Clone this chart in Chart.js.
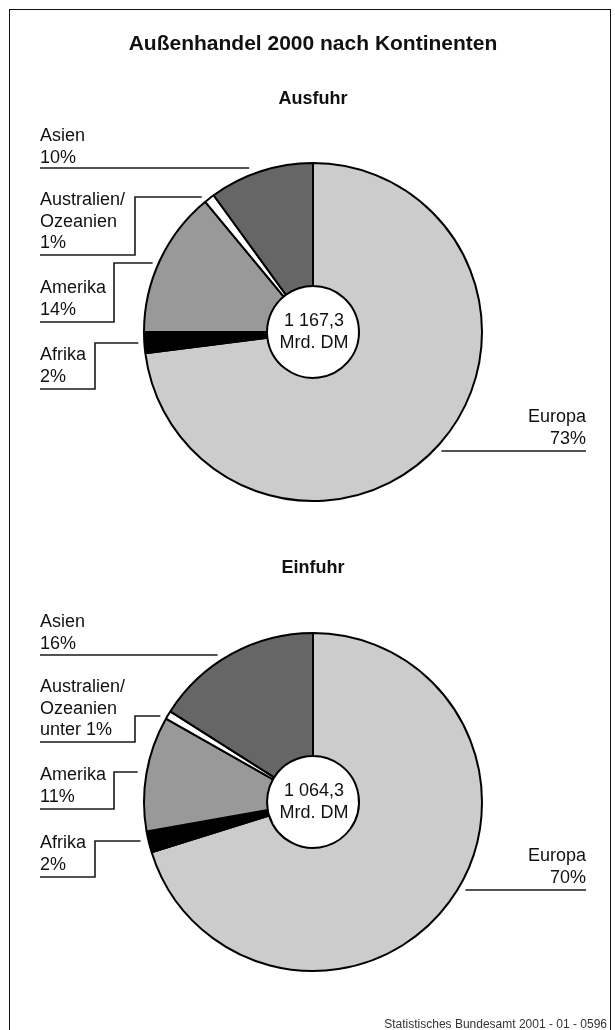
<!DOCTYPE html>
<html lang="de">
<head>
<meta charset="utf-8">
<title>Außenhandel 2000 nach Kontinenten</title>
<script src="https://cdn.jsdelivr.net/npm/chart.js@4/dist/chart.umd.min.js"></script>
<style>
  html, body { margin: 0; padding: 0; background: #fff; }
  #page { position: relative; width: 615px; height: 1030px; overflow: hidden; }
  #page canvas { position: absolute; left: 0; top: 0; }
  .frame { position: absolute; left: 9px; top: 9px; width: 600px; height: 1060px;
           border: 1.5px solid #111; pointer-events: none; }
</style>
</head>
<body>
<div id="page">
  <canvas id="ausfuhr" width="615" height="1030"></canvas>
  <canvas id="einfuhr" width="615" height="1030"></canvas>
  <div class="frame"></div>
</div>
<script>
const FONT = '"Liberation Sans", Arial, Helvetica, sans-serif';

// Kontinente, im Uhrzeigersinn ab 12 Uhr
const continents = ['Europa', 'Afrika', 'Amerika', 'Australien/\nOzeanien', 'Asien'];
const sliceColors = ['#cccccc', '#000000', '#999999', '#ffffff', '#666666'];

// Anteile in Prozent
const exportShares = [73, 2, 14, 1, 10];
const importShares = [70.2, 2, 11, 0.8, 16];

// Gesamtwerte in Mrd. DM
const exportTotal = 1167.3;
const importTotal = 1064.3;

// Beschriftungen: erste Grundlinie, Unterstrich, Knick der Führungslinie
const exportLayout = [
  { align: 'right', x: 586, y: 422, under: 451, gap: 7 },
  { x: 40, y: 360, under: 389, elbow: 95,  top: 343, gap: 5 },
  { x: 40, y: 293, under: 322, elbow: 114, top: 263, gap: 5 },
  { x: 40, y: 205, under: 255, elbow: 135, top: 197, gap: 8 },
  { x: 40, y: 141, under: 168, gap: 19 }
];
const importLayout = [
  { align: 'right', x: 586, y: 861, under: 890, gap: 7 },
  { x: 40, y: 848, under: 877, elbow: 95,  top: 841, gap: 7 },
  { x: 40, y: 780, under: 809, elbow: 114, top: 772, gap: 8 },
  { x: 40, y: 692, under: 742, elbow: 135, top: 716, gap: 6 },
  { x: 40, y: 627, under: 655, gap: 10 }
];

const LINE_H = 21.5;

function pctText(v) {
  return v < 1 ? 'unter 1%' : Math.round(v) + '%';
}

function totalText(v) {
  const parts = v.toFixed(1).split('.');
  const int = parts[0].replace(/\B(?=(\d{3})+(?!\d))/g, ' ');
  return int + ',' + parts[1];
}

// draws center text, labels and leader lines for one pie
const pieLabels = {
  id: 'pieLabels',
  afterDatasetsDraw(chart, args, opts) {
    const ctx = chart.ctx;
    const arc = chart.getDatasetMeta(0).data[0];
    const cx = arc.x, cy = arc.y, R = arc.outerRadius + 1;
    const shares = chart.data.datasets[0].data;
    const edgeL = y => cx - Math.sqrt(Math.max(R * R - (y - cy) * (y - cy), 0));
    const edgeR = y => cx + Math.sqrt(Math.max(R * R - (y - cy) * (y - cy), 0));

    ctx.save();
    ctx.fillStyle = '#111';
    ctx.textBaseline = 'alphabetic';

    // subtitle
    ctx.font = 'bold 18px ' + FONT;
    ctx.textAlign = 'center';
    ctx.fillText(opts.subtitle, cx, opts.subtitleY);

    // total in the center
    ctx.font = '18px ' + FONT;
    ctx.fillText(totalText(opts.total), cx + 1, cy - 6);
    ctx.fillText('Mrd. DM', cx + 1, cy + 16);

    ctx.strokeStyle = '#1a1a1a';
    ctx.lineWidth = 1.6;
    opts.layout.forEach((l, i) => {
      const lines = chart.data.labels[i].split('\n').concat(pctText(shares[i]));
      ctx.textAlign = l.align === 'right' ? 'right' : 'left';
      lines.forEach((t, k) => ctx.fillText(t, l.x, l.y + k * LINE_H));

      ctx.beginPath();
      if (l.align === 'right') {
        ctx.moveTo(edgeR(l.under) + l.gap, l.under);
        ctx.lineTo(l.x, l.under);
      } else if (l.elbow) {
        ctx.moveTo(l.x, l.under);
        ctx.lineTo(l.elbow, l.under);
        ctx.lineTo(l.elbow, l.top);
        ctx.lineTo(edgeL(l.top) - l.gap, l.top);
      } else {
        ctx.moveTo(l.x, l.under);
        ctx.lineTo(edgeL(l.under) - l.gap, l.under);
      }
      ctx.stroke();
    });

    if (opts.header) {
      ctx.textAlign = 'center';
      ctx.font = 'bold 21px ' + FONT;
      ctx.fillText('Außenhandel 2000 nach Kontinenten', 313, 50);
      ctx.textAlign = 'right';
      ctx.font = '12px ' + FONT;
      ctx.fillStyle = '#333';
      ctx.fillText('Statistisches Bundesamt 2001 - 01 - 0596', 607, 1028);
    }
    ctx.restore();
  }
};

function makePie(id, shares, layout, total, subtitle, subtitleY, padding, header) {
  return new Chart(document.getElementById(id), {
    type: 'doughnut',
    data: {
      labels: continents,
      datasets: [{
        data: shares,
        backgroundColor: sliceColors,
        borderColor: '#000',
        borderWidth: 2,
        hoverOffset: 0
      }]
    },
    options: {
      responsive: false,
      animation: false,
      events: [],
      radius: 169,
      cutout: '27.2%',
      layout: { padding: padding },
      plugins: {
        legend: { display: false },
        tooltip: { enabled: false },
        pieLabels: { layout, total, subtitle, subtitleY, header }
      }
    },
    plugins: [pieLabels]
  });
}

makePie('ausfuhr', exportShares, exportLayout, exportTotal, 'Ausfuhr', 104,
        { left: 11, right: 0, top: 0, bottom: 366 }, true);
makePie('einfuhr', importShares, importLayout, importTotal, 'Einfuhr', 573,
        { left: 11, right: 0, top: 574, bottom: 0 }, false);
</script>
</body>
</html>
